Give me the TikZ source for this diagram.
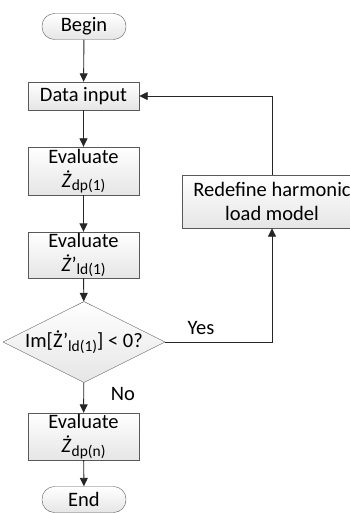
\documentclass[tikz,border=0pt]{standalone}
\usepackage{fontspec}
\setmainfont{Carlito}
\usetikzlibrary{shapes.geometric,arrows.meta}
\newcommand{\lowsub}[1]{\raisebox{-0.35ex}{\fontsize{15.5}{15.5}\selectfont #1}}

\begin{document}
\begin{tikzpicture}[x=1pt,y=-1pt,
    font=\fontsize{20.5}{24}\selectfont,
    shade box/.style={draw=black!65,top color=white,bottom color=black!10},
    box/.style={shade box,align=center,inner sep=0pt,
            minimum width=111pt},
    terminal/.style={shade box,rounded corners=12.5pt,inner sep=0pt,
            minimum width=84pt,minimum height=26pt},
    test/.style={shade box,diamond,aspect=2,inner sep=0pt,
            minimum width=148pt,minimum height=75pt},
    flow/.style={draw=black!85,line width=0.9pt,
            -{Triangle[length=8.5pt,width=8pt]}}]
    \useasboundingbox (0,0) rectangle (350,513);
    % main column
    \node[terminal] (begin) at (84,26.5) {Begin};
    \node[box,minimum height=28pt] (input) at (83.5,96) {Data input};
    \node[box,minimum height=48pt] (evaldp) at (83.5,171)
        {Evaluate\\\textit{Ż}\lowsub{dp(1)}};
    \node[box,minimum height=46pt] (evalld) at (83.5,255)
        {Evaluate\\\textit{Ż}’\lowsub{ld(1)}};
    \node[test] (check) at (84,342) {Im[Ż’\lowsub{ld(1)}] < 0?};
    \node[box,minimum height=47pt] (evaln) at (83.5,436.5)
        {Evaluate\\\textit{Ż}\lowsub{dp(n)}};
    \node[terminal] (end) at (84,499.5) {End};
    % feedback branch
    \node[box,minimum width=180pt,minimum height=53pt] (redefine) at (272,201.5)
        {Redefine harmonic\\load model};
    \node (yes) at (201,328) {Yes};
    \node (no) at (123,394) {No};

    \draw[flow] (begin) -- (input);
    \draw[flow] (input) -- (evaldp);
    \draw[flow] (evaldp) -- (evalld);
    \draw[flow] (evalld) -- (check);
    \draw[flow] (check) -- (evaln);
    \draw[flow] (evaln) -- (end);
    \draw[flow] (check.east) -| (redefine.south);
    \draw[flow] (redefine.north) |- (input.east);
\end{tikzpicture}
\end{document}
